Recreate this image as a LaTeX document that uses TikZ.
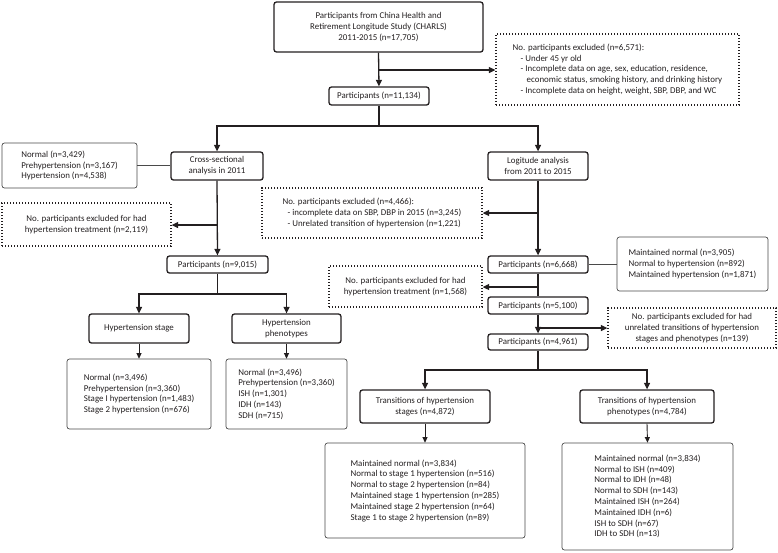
\documentclass[tikz,border=0pt]{standalone}
\usepackage{fontspec}
\setmainfont{Carlito}
\usetikzlibrary{arrows.meta}
\definecolor{ink}{HTML}{231F20}
\definecolor{thin}{HTML}{4A4A4A}
\begin{document}
\begin{tikzpicture}[x=1pt,y=-1pt,
  font=\fontsize{8.9}{10.8}\selectfont, text=ink,
  mainbox/.style={draw=ink, line width=1.3pt, rounded corners=2.5pt, inner sep=0pt, align=center},
  thinbox/.style={draw=thin, line width=0.7pt, rounded corners=2.5pt, inner sep=0pt, align=left},
  dotbox/.style={draw=ink, line width=1.3pt, dash pattern=on 1.3pt off 1.7pt, inner sep=0pt},
  conn/.style={draw=ink, line width=1.3pt},
  arr/.style={conn, -{Triangle[length=6.5pt,width=6pt]}},
  sarr/.style={draw=ink, line width=0.9pt, -{Triangle[length=5.5pt,width=5pt]}},
  tline/.style={draw=thin, line width=0.7pt}]
\useasboundingbox (0,0) rectangle (778,552);

% ---- top
\node[mainbox, minimum width=209pt, minimum height=50pt] (title) at (378.5,27)
  {Participants from China Health and\\Retirement Longitude Study (CHARLS)\\2011-2015 (n=17,705)};
\node[mainbox, minimum width=100pt, minimum height=18pt] (p1) at (379,96) {Participants (n=11,134)};
\node[dotbox, minimum width=243pt, minimum height=71pt, align=left] (exc1) at (617.5,69.5)
  {No. participants excluded (n=6,571):\\
   \hspace*{8pt}- Under 45 yr old\\
   \hspace*{8pt}- Incomplete data on age, sex, education, residence,\\
   \hspace*{14pt}economic status, smoking history, and drinking history\\
   \hspace*{8pt}- Incomplete data on height, weight, SBP, DBP, and WC};

% ---- left branch
\node[mainbox, minimum width=92pt, minimum height=28pt] (cross) at (217,166) {Cross-sectional\\analysis in 2011};
\node[thinbox, minimum width=135pt, minimum height=45pt] (normL) at (69.5,165.5)
  {Normal (n=3,429)\\Prehypertension (n=3,167)\\Hypertension (n=4,538)};
\node[dotbox, minimum width=169pt, minimum height=43pt, align=center] (exc2) at (86.5,224.5)
  {No. participants excluded for had\\hypertension treatment (n=2,119)};
\node[mainbox, minimum width=101pt, minimum height=17pt] (p2) at (217.5,264.5) {Participants (n=9,015)};
\node[mainbox, minimum width=100pt, minimum height=29pt] (stage) at (139,328.5) {Hypertension stage};
\node[mainbox, minimum width=109pt, minimum height=29pt] (pheno) at (286.5,328.5) {Hypertension\\phenotypes};
\node[thinbox, minimum width=144pt, minimum height=70pt] (stageR) at (139,394)
  {Normal (n=3,496)\\Prehypertension (n=3,360)\\Stage I hypertension (n=1,483)\\Stage 2 hypertension (n=676)};
\node[thinbox, minimum width=121pt, minimum height=70pt] (phenoR) at (286.5,394)
  {Normal (n=3,496)\\Prehypertension (n=3,360)\\ISH (n=1,301)\\IDH (n=143)\\SDH (n=715)};

% ---- right branch
\node[mainbox, minimum width=100pt, minimum height=28pt] (long) at (538,166) {Logitude analysis\\from 2011 to 2015};
\node[dotbox, minimum width=220pt, minimum height=50pt, align=left] (exc3) at (372,213)
  {No. participants excluded (n=4,466):\\
   \hspace*{5pt}- incomplete data on SBP, DBP in 2015 (n=3,245)\\
   \hspace*{5pt}- Unrelated transition of hypertension (n=1,221)};
\node[mainbox, minimum width=100pt, minimum height=17pt] (p3) at (538,264.5) {Participants (n=6,668)};
\node[thinbox, minimum width=151pt, minimum height=54pt] (maint) at (692.5,264)
  {Maintained normal (n=3,905)\\Normal to hypertension (n=892)\\Maintained hypertension (n=1,871)};
\node[dotbox, minimum width=153pt, minimum height=41pt, align=center] (exc4) at (405.5,286.5)
  {No. participants excluded for had\\hypertension treatment (n=1,568)};
\node[mainbox, minimum width=100pt, minimum height=17pt] (p4) at (538,305.5) {Participants (n=5,100)};
\node[dotbox, minimum width=168pt, minimum height=40pt, align=center] (exc5) at (692,328)
  {No. participants excluded for had\\unrelated transitions of hypertension\\stages and phenotypes (n=139)};
\node[mainbox, minimum width=100pt, minimum height=16pt] (p5) at (538,342) {Participants (n=4,961)};
\node[mainbox, minimum width=130pt, minimum height=33pt] (transS) at (425,406.5)
  {Transitions of hypertension\\stages (n=4,872)};
\node[mainbox, minimum width=134pt, minimum height=33pt] (transP) at (647,406.5)
  {Transitions of hypertension\\phenotypes (n=4,784)};
\node[thinbox, minimum width=200pt, minimum height=95pt] (transSR) at (425,490.5)
  {Maintained normal (n=3,834)\\Normal to stage 1 hypertension (n=516)\\Normal to stage 2 hypertension (n=84)\\Maintained stage 1 hypertension (n=285)\\Maintained stage 2 hypertension (n=64)\\Stage 1 to stage 2 hypertension (n=89)};
\node[thinbox, minimum width=171pt, minimum height=107pt] (transPR) at (647.5,496.5)
  {Maintained normal (n=3,834)\\Normal to ISH (n=409)\\Normal to IDH (n=48)\\Normal to SDH (n=143)\\Maintained ISH (n=264)\\Maintained IDH (n=6)\\ISH to SDH (n=67)\\IDH to SDH (n=13)};

% ---- coordinates
\coordinate (b1) at (379,70);
\coordinate (br1) at (379,126);
\coordinate (b2) at (217,225);
\coordinate (br2) at (217.5,294);
\coordinate (b3) at (538,213);
\coordinate (b4) at (538,287);
\coordinate (b5) at (538,328);
\coordinate (br5) at (538,370);

% ---- connectors
\draw[arr] (title.south) -- (p1.north);
\draw[arr] (b1) -- (b1 -| exc1.west);
\draw[conn] (p1.south) -- (br1);
\draw[arr] (br1) -| (cross.north);
\draw[arr] (br1) -| (long.north);

\draw[tline] (normL.east) -- (normL.east -| cross.west);
\draw[arr] (cross.south) -- (p2.north);
\draw[arr] (b2) -- (b2 -| exc2.east);
\draw[conn] (p2.south) -- (br2);
\draw[arr] (br2) -| (stage.north);
\draw[arr] (br2) -| (pheno.north);
\draw[sarr] (stage.south) -- (stageR.north);
\draw[sarr] (pheno.south) -- (phenoR.north);

\draw[arr] (long.south) -- (p3.north);
\draw[arr] (b3) -- (b3 -| exc3.east);
\draw[tline] (p3.east) -- (p3.east -| maint.west);
\draw[conn] (p3.south) -- (p4.north);
\draw[arr] (b4) -- (b4 -| exc4.east);
\draw[arr] (p4.south) -- (p5.north);
\draw[arr] (b5) -- (b5 -| exc5.west);
\draw[conn] (p5.south) -- (br5);
\draw[arr] (br5) -| (transS.north);
\draw[arr] (br5) -| (transP.north);
\draw[sarr] (transS.south) -- (transSR.north);
\draw[sarr] (transP.south) -- (transPR.north);
\end{tikzpicture}
\end{document}
